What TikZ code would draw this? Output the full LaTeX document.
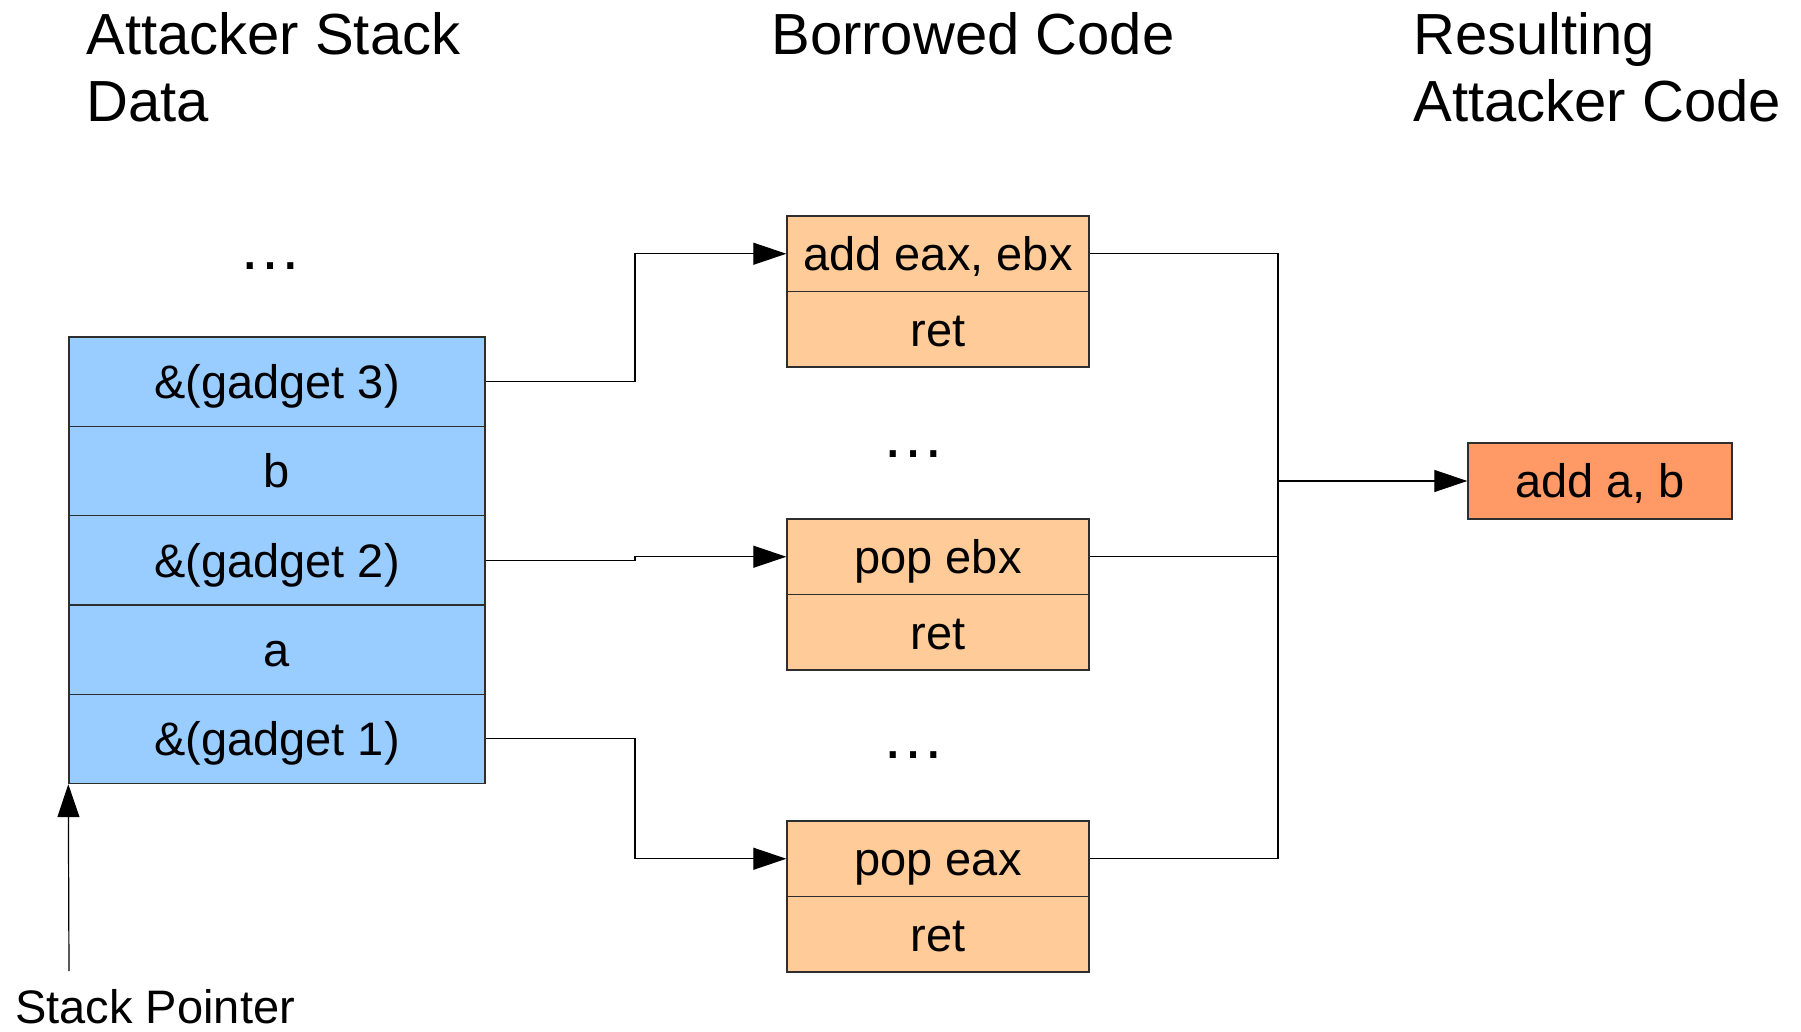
\documentclass[tikz,border=0pt]{standalone}
\usepackage{fontspec}
\setmainfont{Liberation Sans}
\usetikzlibrary{arrows.meta}
\definecolor{stackblue}{HTML}{99CCFF}
\definecolor{codeorange}{HTML}{FFCC99}
\definecolor{resultorange}{HTML}{FF9966}
\definecolor{edge}{HTML}{2E2E2E}

\begin{document}
\begin{tikzpicture}[x=0.5pt, y=-0.5pt,
  cell/.style={rectangle, draw=edge, line width=0.7pt, inner sep=0pt,
    text height=16.8pt, text depth=0pt, font=\fontsize{23.5}{27}\selectfont},
  stackcell/.style={cell, fill=stackblue, minimum width=208pt, minimum height=44.65pt},
  codecell/.style={cell, fill=codeorange, minimum width=151pt, minimum height=37.75pt},
  resultcell/.style={cell, fill=resultorange, minimum width=132pt, minimum height=38pt},
  % multi-line headings are placed by the baseline of their last line
  heading/.style={anchor=base west, align=left, inner sep=0pt,
    font=\fontsize{29}{33.35}\selectfont},
  label/.style={anchor=base west, inner sep=0pt, font=\fontsize{23.5}{27}\selectfont},
  ellipsis/.style={inner sep=0pt, font=\fontsize{32}{36}\selectfont},
  wire/.style={line width=0.6pt, draw=black},
  arrow/.style={wire, -{Triangle[length=16.5pt, width=11pt]}},
]
% canvas
\useasboundingbox (0,0) rectangle (1801,1032);

% column headings
\node[heading] (h1) at (86,121.7) {Attacker Stack\\Data};
\node[heading] (h2) at (771,55) {Borrowed Code};
\node[heading] (h3) at (1413,121.7) {Resulting\\Attacker Code};

% attacker stack
\node[ellipsis] (sdots) at (270,266) {…};
\node[stackcell] (s5) at (277,381.65) {\&(gadget 3)};
\node[stackcell] (s4) at (277,470.95) {b};
\node[stackcell] (s3) at (277,560.25) {\&(gadget 2)};
\node[stackcell] (s2) at (277,649.55) {a};
\node[stackcell] (s1) at (277,738.85) {\&(gadget 1)};

% borrowed code gadgets
\node[codecell] (a1) at (938,253.75) {add eax, ebx};
\node[codecell] (a2) at (938,329.25) {ret};
\node[ellipsis] (mdots1) at (913,454.5) {…};
\node[codecell] (b1) at (938,556.75) {pop ebx};
\node[codecell] (b2) at (938,632.25) {ret};
\node[ellipsis] (mdots2) at (913,755.5) {…};
\node[codecell] (c1) at (938,858.75) {pop eax};
\node[codecell] (c2) at (938,934.25) {ret};

% resulting code
\node[resultcell] (res) at (1600,481) {add a, b};

% stack pointer
\node[label] (sp) at (15,1023) {Stack Pointer};
\coordinate (sptail) at (69,971);
\draw[arrow] (sptail) -- (s1.south west);

% routing columns
\coordinate (jx) at (635,0);
\coordinate (kx) at (1278,0);

% stack entries to gadgets
\draw[arrow] (s5.east) -- (s5.east -| jx) |- (a1.west);
\draw[arrow] (s3.east) -- (s3.east -| jx) |- (b1.west);
\draw[arrow] (s1.east) -- (s1.east -| jx) |- (c1.west);

% gadgets merge into the resulting instruction
\draw[wire] (a1.east) -- (a1.east -| kx) -- (c1.east -| kx) -- (c1.east);
\draw[wire] (b1.east) -- (b1.east -| kx);
\draw[arrow] (res.west -| kx) -- (res.west);
\end{tikzpicture}
\end{document}
